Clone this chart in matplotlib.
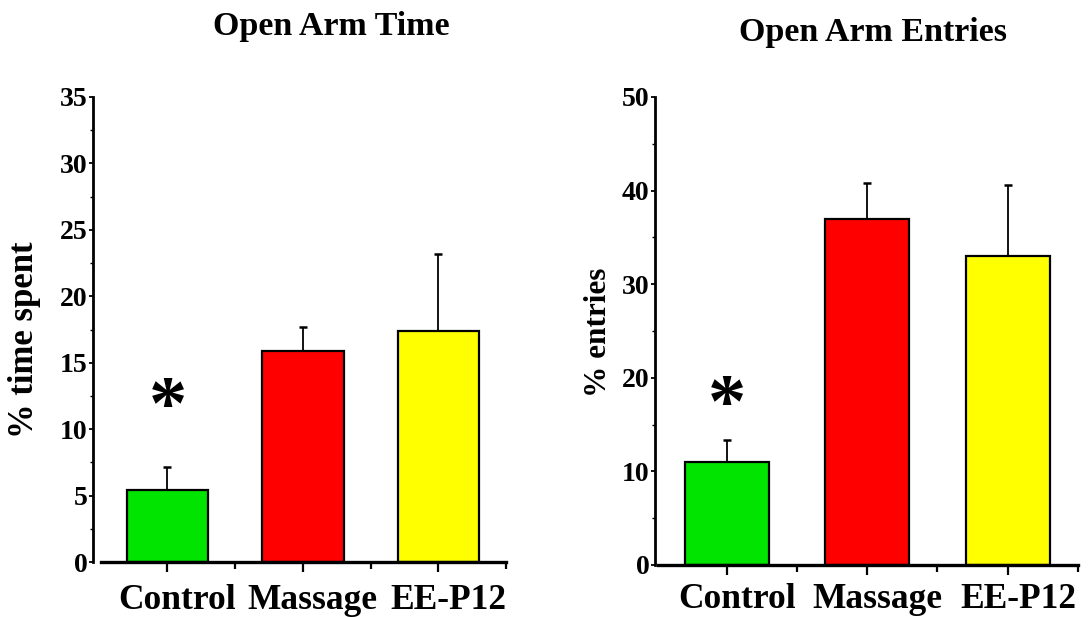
import matplotlib
matplotlib.use('Agg')
import matplotlib.pyplot as plt
from matplotlib.ticker import MultipleLocator, FixedLocator

plt.rcParams['font.family'] = 'Liberation Serif'
plt.rcParams['font.weight'] = 'bold'

groups = ['Control', 'Massage', 'EE-P12']
colors = ['#00E400', '#FF0000', '#FFFF00']

time_mean = [5.4, 15.9, 17.4]
time_err = [1.75, 1.8, 5.75]

entries_mean = [11.0, 37.0, 33.0]
entries_err = [2.4, 3.8, 7.6]

W, H = 1089, 617
fig = plt.figure(figsize=(W / 100, H / 100), dpi=100)
# axes placed from pixel boxes
ax1 = fig.add_axes([93 / W, 1 - 562 / H, (506 - 93) / W, (562 - 97) / H])
ax2 = fig.add_axes([655 / W, 1 - 565 / H, (1078 - 655) / W, (565 - 97) / H])


def panel(ax, means, errs, ymax, ystep, xleft, label_y):
    x = range(len(groups))
    ax.bar(x, means, width=0.6, color=colors, edgecolor='black', linewidth=1.6, zorder=2)
    ax.errorbar(x, means, yerr=[[0] * len(errs), errs], fmt='none', ecolor='black',
                elinewidth=1.3, capsize=3, capthick=1.8, zorder=1)
    ax.set_xlim(xleft, 2.5)
    ax.set_ylim(0, ymax)
    for s in ['top', 'right']:
        ax.spines[s].set_visible(False)
    ax.spines['left'].set_linewidth(2)
    ax.spines['bottom'].set_linewidth(2.4)
    ax.spines['bottom'].set_bounds(-0.49, 2.5)
    ax.set_xticks(list(x))
    ax.set_xticklabels([])
    # category names sit a little right of their ticks in the original
    for i, g in enumerate(groups):
        ax.text(i + 0.073, label_y, g, transform=ax.get_xaxis_transform(),
                ha='center', va='center', fontsize=25.5, fontweight='bold')
    ax.xaxis.set_minor_locator(FixedLocator([0.5, 1.5, 2.5]))
    ax.yaxis.set_major_locator(MultipleLocator(ystep))
    ax.yaxis.set_minor_locator(MultipleLocator(ystep / 2))
    ax.tick_params(axis='x', which='major', length=7, width=1.6)
    ax.tick_params(axis='x', which='minor', length=5, width=1.6)
    ax.tick_params(axis='y', which='major', length=3, width=1.3, pad=1, labelsize=20)
    ax.tick_params(axis='y', which='minor', length=2, width=1.0)
    for lab in ax.get_yticklabels():
        lab.set_fontweight('bold')


panel(ax1, time_mean, time_err, 35, 5, -0.55, -0.082)
panel(ax2, entries_mean, entries_err, 50, 10, -0.51, -0.074)

fig.text(331 / W, 1 - 26 / H, 'Open Arm Time', ha='center', va='center', fontsize=24.5, fontweight='bold')
fig.text(873 / W, 1 - 32 / H, 'Open Arm Entries', ha='center', va='center', fontsize=24.5, fontweight='bold')
fig.text(25 / W, 1 - 340 / H, '% time spent', rotation=90, ha='center', va='center', fontsize=25, fontweight='bold')
fig.text(598 / W, 1 - 332 / H, '% entries', rotation=90, ha='center', va='center', fontsize=22.5, fontweight='bold')

ax1.text(0, 10.1, '*', ha='center', va='baseline', fontsize=55, fontweight='bold')
ax2.text(0, 14.8, '*', ha='center', va='baseline', fontsize=55, fontweight='bold')

fig.savefig('out.png', dpi=100)
